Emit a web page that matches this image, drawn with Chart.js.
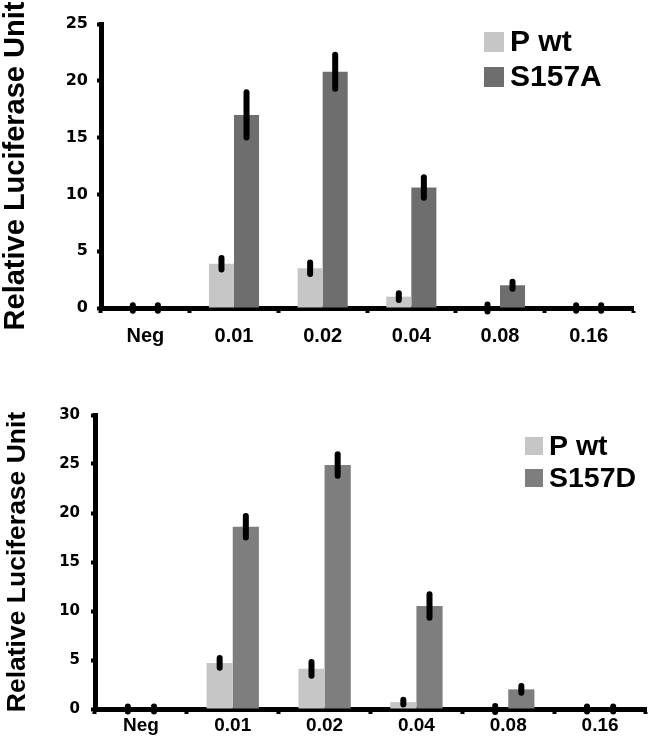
<!DOCTYPE html>
<html>
<head>
<meta charset="utf-8">
<script src="https://cdn.jsdelivr.net/npm/chart.js@4.4.1/dist/chart.umd.min.js"></script>
<style>
  html, body { margin: 0; padding: 0; background: #fff; }
  #wrap { position: relative; width: 650px; height: 745px; }
  .panel { position: absolute; left: 0; width: 650px; }
  #top-panel { top: 0; height: 360px; }
  #bottom-panel { top: 360px; height: 385px; }
</style>
</head>
<body>
<div id="wrap">
  <div class="panel" id="top-panel"><canvas id="chart-a" width="650" height="360"></canvas></div>
  <div class="panel" id="bottom-panel"><canvas id="chart-d" width="650" height="385"></canvas></div>
</div>
<script>
const doses = ['Neg', '0.01', '0.02', '0.04', '0.08', '0.16'];

// top panel: P wt vs S157A
const pwtA = [0, 3.9, 3.5, 1.0, 0, 0];
const pwtAErr = [0.25, 0.5, 0.5, 0.3, 0.3, 0.25];
const s157A = [0, 17.0, 20.8, 10.6, 2.0, 0];
const s157AErr = [0.25, 2.0, 1.5, 0.9, 0.3, 0.25];
const ticksA = [0, 5, 10, 15, 20, 25];

// bottom panel: P wt vs S157D
const pwtD = [0, 4.7, 4.1, 0.7, 0, 0];
const pwtDErr = [0.25, 0.5, 0.7, 0.25, 0.3, 0.25];
const s157D = [0, 18.6, 24.9, 10.5, 2.0, 0];
const s157DErr = [0.25, 1.1, 1.1, 1.2, 0.35, 0.25];
const ticksD = [0, 5, 10, 15, 20, 25, 30];

// black error bars, thick with round ends (zero values end up as little dots)
const errorBars = {
    id: 'errorBars',
    afterDatasetsDraw(chart, args, opts) {
        const ctx = chart.ctx;
        const y = chart.scales.y;
        ctx.save();
        ctx.strokeStyle = '#000';
        ctx.lineWidth = opts.width;
        ctx.lineCap = 'round';
        chart.data.datasets.forEach((ds, i) => {
            const meta = chart.getDatasetMeta(i);
            meta.data.forEach((bar, j) => {
                const v = ds.data[j];
                const e = ds.errors[j];
                ctx.beginPath();
                ctx.moveTo(bar.x, y.getPixelForValue(v - e));
                ctx.lineTo(bar.x, y.getPixelForValue(v + e));
                ctx.stroke();
            });
        });
        ctx.restore();
    }
};

// square swatch legend placed inside the plot, top right
const boxLegend = {
    id: 'boxLegend',
    afterDraw(chart, args, o) {
        const ctx = chart.ctx;
        ctx.save();
        ctx.font = o.font;
        ctx.textBaseline = 'middle';
        ctx.textAlign = 'left';
        chart.data.datasets.forEach((ds, i) => {
            const top = o.y + i * o.rowGap;
            ctx.fillStyle = ds.backgroundColor;
            ctx.fillRect(o.x, top, o.box, o.box);
            ctx.fillStyle = '#000';
            ctx.fillText(ds.label, o.textX, top + o.box / 2 + 1);
        });
        ctx.restore();
    }
};

function buildPanel(canvasId, sets, tickValues, look) {
    const ctx = document.getElementById(canvasId).getContext('2d');
    return new Chart(ctx, {
        type: 'bar',
        data: {
            labels: doses,
            datasets: sets.map(s => ({
                label: s.label,
                data: s.values,
                errors: s.errors,
                backgroundColor: s.color,
                borderWidth: 0,
                barPercentage: 1,
                categoryPercentage: look.groupWidth
            }))
        },
        options: {
            responsive: false,
            animation: false,
            layout: {
                padding: { top: look.top, right: look.right, left: 0, bottom: 0 }
            },
            scales: {
                x: {
                    z: 1,
                    offset: true,
                    border: { color: '#000', width: 5 },
                    grid: {
                        offset: true,
                        drawOnChartArea: false,
                        tickLength: 5,
                        tickWidth: 4,
                        tickColor: '#000'
                    },
                    ticks: {
                        color: '#000',
                        autoSkip: false,
                        maxRotation: 0,
                        padding: look.xPad,
                        font: { family: '"Liberation Sans", Arial, sans-serif', weight: 'bold', size: look.xFont }
                    },
                    afterFit: s => { s.height = look.xHeight; }
                },
                y: {
                    z: 1,
                    min: tickValues[0],
                    max: tickValues[tickValues.length - 1],
                    afterBuildTicks: s => { s.ticks = tickValues.map(v => ({ value: v })); },
                    border: { color: '#000', width: 5 },
                    grid: {
                        drawOnChartArea: false,
                        tickLength: 4,
                        tickWidth: 4,
                        tickColor: '#000'
                    },
                    ticks: {
                        color: '#000',
                        padding: look.yPad,
                        font: { family: '"DejaVu Sans", sans-serif', weight: 'bold', size: look.yFont }
                    },
                    title: {
                        display: true,
                        text: 'Relative Luciferase Unit',
                        color: '#000',
                        padding: { top: look.titlePad, bottom: 0 },
                        font: { family: '"Liberation Sans", Arial, sans-serif', weight: 'bold', size: look.titleFont, lineHeight: 1 }
                    },
                    afterFit: s => { s.width = look.yWidth; }
                }
            },
            plugins: {
                legend: { display: false },
                tooltip: { enabled: false },
                errorBars: { width: 6 },
                boxLegend: look.legend
            }
        },
        plugins: [errorBars, boxLegend]
    });
}

buildPanel('chart-a', [
    { label: 'P wt', values: pwtA, errors: pwtAErr, color: '#c6c6c6' },
    { label: 'S157A', values: s157A, errors: s157AErr, color: '#6e6e6e' }
], ticksA, {
    top: 24, right: 17, yWidth: 101, xHeight: 52, groupWidth: 0.565,
    xFont: 20, xPad: 11, yFont: 16, yPad: 9, titleFont: 29, titlePad: 1,
    legend: { x: 484, y: 32, box: 20, rowGap: 35, textX: 510, font: 'bold 30px "Liberation Sans", Arial, sans-serif' }
});

buildPanel('chart-d', [
    { label: 'P wt', values: pwtD, errors: pwtDErr, color: '#c6c6c6' },
    { label: 'S157D', values: s157D, errors: s157DErr, color: '#7e7e7e' }
], ticksD, {
    top: 55, right: 4, yWidth: 95, xHeight: 36, groupWidth: 0.57,
    xFont: 19, xPad: 0, yFont: 15, yPad: 11, titleFont: 26.5, titlePad: 4,
    legend: { x: 525, y: 77, box: 18, rowGap: 32, textX: 549, font: 'bold 28.5px "Liberation Sans", Arial, sans-serif' }
});
</script>
</body>
</html>
